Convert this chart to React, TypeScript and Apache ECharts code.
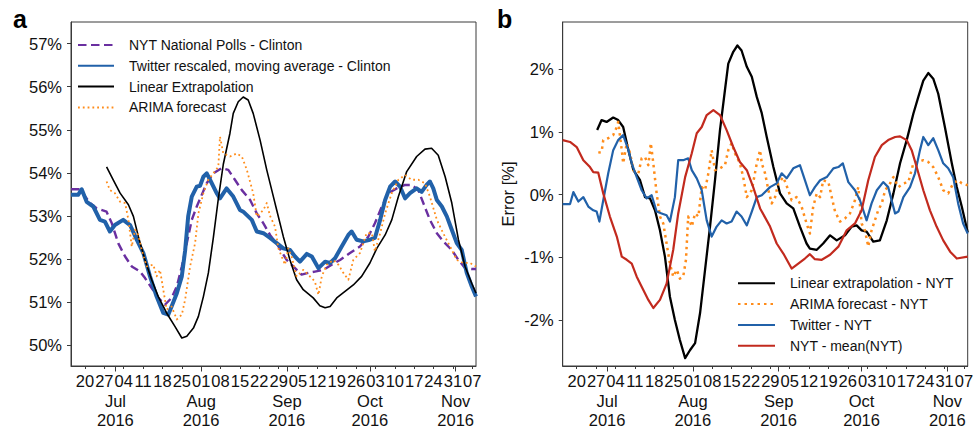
import React, { useEffect, useRef } from 'react';
import * as echarts from 'echarts';

// x values are days counted from Monday 2016-06-20
const X_MIN = -5.06;
const X_MAX = 141.35;
const weekDays = [0, 7, 14, 21, 28, 35, 42, 49, 56, 63, 70, 77, 84, 91, 98, 105, 112, 119, 126, 133, 140];
const weekLabels = ['20', '27', '04', '11', '18', '25', '01', '08', '15', '22', '29', '05', '12', '19', '26', '03', '10', '17', '24', '31', '07'];
const monthDays = [11, 42, 73, 103, 134];
const monthLabels = ['Jul\n2016', 'Aug\n2016', 'Sep\n2016', 'Oct\n2016', 'Nov\n2016'];
const leftYTicks = [50, 51, 52, 53, 54, 55, 56, 57];
const rightYTicks = [-2, -1, 0, 1, 2];

// ---- panel a ----
const nytDays = [-5.06, -2.3, -1.2, 1.8, 4.2, 7.8, 9.7, 12, 14.5, 16.9, 19.9, 21.7, 24.1, 26.5, 28.9, 31.3, 33.2, 35, 36.8, 38.6, 40.4, 42.2, 44, 46.4, 49.4, 51.8, 54.2, 56.7, 59.7, 62.1, 64.5, 66.9, 69.3, 72.9, 75.3, 78.3, 80.7, 83.1, 86.2, 89.2, 92.2, 95.8, 99.4, 102.4, 104.8, 107.3, 109.7, 112.7, 115.7, 118.1, 120.5, 122.3, 124.7, 127.2, 129.5, 132.6, 135, 137.4, 139.8, 141.35];
const nytVals = [53.62, 53.62, 53.56, 53.3, 53.18, 53.1, 52.83, 52.37, 52.06, 51.83, 51.71, 51.56, 51.33, 51.1, 50.94, 51.1, 51.37, 51.83, 52.37, 52.91, 53.22, 53.49, 53.76, 53.99, 54.11, 54.07, 53.84, 53.6, 53.37, 53.06, 52.83, 52.56, 52.36, 51.98, 51.83, 51.64, 51.68, 51.71, 51.75, 51.87, 51.98, 52.14, 52.29, 52.52, 52.83, 53.22, 53.53, 53.64, 53.72, 53.72, 53.6, 53.3, 52.91, 52.6, 52.41, 52.21, 51.98, 51.79, 51.77, 51.77];

const twDays = [-5.06, -2.5, -1.2, 0.6, 3, 5.4, 7.2, 9, 10.8, 13.8, 16.3, 18.7, 21.1, 23.5, 25.9, 28.3, 30.1, 31.3, 33.2, 35, 36.2, 37.3, 38.6, 40.4, 41.6, 42.8, 44, 45.2, 47.6, 48.8, 51.2, 53.6, 56, 57.2, 60.3, 62.1, 64.5, 66.9, 69.3, 71.7, 74.1, 75.9, 77.7, 80.2, 82, 84.4, 86.8, 88.6, 90.4, 92.8, 95.2, 96.4, 98.2, 100.6, 103, 104.8, 106.7, 108.5, 110.3, 112.1, 113.9, 115.7, 117.5, 119.9, 121.7, 123.5, 124.7, 125.9, 127.2, 129, 130.8, 132.6, 134.4, 136.2, 138, 139.8, 141.35];
const twVals = [53.49, 53.49, 53.62, 53.33, 53.22, 52.91, 52.87, 52.64, 52.79, 52.91, 52.79, 52.45, 52.14, 51.6, 51.13, 50.75, 50.71, 50.9, 51.21, 51.6, 52.2, 52.99, 53.45, 53.68, 53.7, 53.91, 53.99, 53.84, 53.53, 53.41, 53.64, 53.45, 53.14, 53.1, 52.91, 52.64, 52.6, 52.49, 52.37, 52.25, 52.21, 52.06, 51.94, 52.12, 52.06, 51.79, 51.94, 51.91, 52.02, 52.29, 52.56, 52.64, 52.45, 52.41, 52.45, 52.49, 52.91, 53.37, 53.68, 53.8, 53.68, 53.41, 53.53, 53.64, 53.56, 53.72, 53.8, 53.64, 53.37, 53.22, 52.99, 52.68, 52.37, 52.21, 51.68, 51.37, 51.13];

const linDays = [7.8, 10.2, 12.7, 15.7, 17.5, 19.3, 21.7, 24.1, 26.5, 29.5, 32.5, 35, 36.8, 39.2, 41, 42.8, 44.6, 46.4, 48.2, 50, 52.4, 53.6, 55.4, 57.2, 59, 60.8, 63.3, 65.7, 68.1, 69.3, 71.7, 74.1, 76.5, 78.9, 82.5, 84.9, 86.8, 88.6, 91, 94, 97, 100, 103, 105.5, 108.5, 110.9, 113.3, 116.3, 119.9, 122.9, 125.3, 127.7, 130.2, 132.6, 135, 137.4, 139.8, 141.35];
const linVals = [54.14, 53.84, 53.53, 53.26, 52.99, 52.52, 51.98, 51.52, 51.13, 50.75, 50.44, 50.17, 50.21, 50.4, 50.67, 51.13, 51.68, 52.5, 53.4, 54.2, 54.92, 55.38, 55.65, 55.76, 55.69, 55.38, 54.76, 54.07, 53.45, 53.14, 52.52, 51.98, 51.52, 51.29, 51.1, 50.92, 50.87, 50.9, 51.1, 51.25, 51.4, 51.6, 51.91, 52.25, 52.56, 52.91, 53.45, 54.03, 54.38, 54.55, 54.57, 54.41, 53.91, 53.3, 52.45, 51.83, 51.44, 51.21];

const arDays = [7.8, 9, 10.8, 12.7, 14.5, 15.7, 16.9, 18.1, 19.3, 20.5, 22.3, 24.7, 25.9, 27.1, 28.3, 29.5, 31.3, 33.2, 35, 36.2, 38, 39.8, 41, 42.8, 44.6, 46.4, 48.2, 48.8, 50, 52.4, 54.8, 56.7, 58.5, 60.8, 62.1, 63.3, 64.5, 65.7, 66.9, 68.7, 69.9, 72.3, 73.5, 74.7, 76.5, 78.9, 81.3, 83.1, 84.4, 85.6, 87.4, 89.8, 91.6, 93.4, 95.2, 97, 99.4, 101.8, 103.7, 104.8, 106.7, 108.5, 110.9, 113.3, 115.7, 118.1, 120.5, 122.9, 124.7, 127.2, 129.5, 132, 134.4, 136.8, 139.2, 141.35];
const arVals = [53.8, 53.6, 53.53, 53.33, 53.3, 52.91, 52.29, 52.68, 52.56, 52.21, 51.83, 51.87, 51.6, 51.75, 51.29, 50.83, 50.9, 50.6, 50.71, 51.06, 51.83, 52.37, 53.06, 53.53, 53.84, 53.99, 54.14, 54.84, 54.45, 54.38, 54.45, 54.38, 54.07, 53.53, 52.99, 53.06, 53.14, 53.3, 53.0, 52.75, 52.25, 51.87, 52.25, 52.06, 51.6, 51.75, 51.6, 51.48, 51.17, 51.6, 51.87, 51.98, 51.87, 51.68, 51.52, 51.98, 52.14, 52.6, 52.6, 52.18, 52.6, 53.06, 53.53, 53.84, 53.95, 53.84, 53.84, 53.76, 53.45, 52.91, 52.6, 52.29, 51.98, 51.91, 51.91, 51.83];

// ---- panel b ----
const lnDays = [7.4, 9, 10.8, 13.2, 15, 16.8, 18.7, 20.5, 22.9, 24.7, 26.5, 28.3, 30.1, 31.9, 33.7, 35.5, 37.3, 39.2, 41, 42.8, 44.6, 46.4, 48.2, 50, 51.8, 53.6, 54.8, 56.6, 58.1, 59.6, 61.5, 63.3, 65.1, 66.9, 68.7, 71.1, 73.5, 75.9, 78.3, 80.7, 83.1, 84.3, 86.8, 89.1, 91.6, 94, 97, 99.4, 101.2, 103, 104.8, 107.2, 109.6, 112.1, 114.5, 116.9, 119.3, 121.7, 123.5, 125.3, 127.1, 128.9, 130.7, 133.1, 135.6, 137.4, 139.2, 141.35];
const lnVals = [1.03, 1.19, 1.16, 1.23, 1.19, 1.08, 0.71, 0.39, 0.23, -0.04, -0.06, -0.25, -0.57, -0.99, -1.63, -2.0, -2.32, -2.61, -2.48, -2.37, -1.89, -1.2, -0.51, 0.23, 1.03, 1.67, 2.09, 2.28, 2.38, 2.3, 2.04, 1.88, 1.56, 1.3, 0.92, 0.44, 0.02, -0.14, -0.22, -0.51, -0.78, -0.86, -0.88, -0.78, -0.65, -0.73, -0.65, -0.51, -0.49, -0.57, -0.59, -0.75, -0.73, -0.41, 0.02, 0.5, 0.87, 1.29, 1.56, 1.82, 1.94, 1.85, 1.61, 1.08, 0.5, 0.12, -0.19, -0.6];

const anDays = [7.8, 9, 9.6, 11.4, 13.2, 14.5, 15, 16.3, 16.8, 18.1, 19.3, 20.5, 22.3, 23.5, 24.7, 25.9, 26.8, 27.7, 28.9, 30.1, 31.3, 32.5, 33.7, 34.9, 36.2, 37.3, 38.5, 39.5, 40.3, 41.6, 42.8, 44, 45.2, 46.4, 47.6, 48.8, 50, 51.8, 53.6, 54.8, 56, 57.2, 59, 60.2, 61.5, 63.3, 65.1, 66.3, 66.9, 68.1, 69.3, 70.5, 71.7, 72.9, 74.7, 76.5, 77.7, 79.5, 81.3, 83.1, 84.3, 85.5, 86.8, 88, 89.1, 91, 92.2, 93.4, 95.2, 97, 98.8, 100.6, 101.8, 103, 104.2, 105.4, 106.6, 107.8, 109, 110.3, 111.5, 113.3, 114.5, 116.3, 118.1, 119.9, 121.7, 123.5, 125.3, 127.1, 128.9, 130.7, 132.5, 134.3, 136.1, 137.9, 139.2, 141.35];
const anVals = [0.67, 0.68, 0.87, 0.9, 0.95, 1.08, 1.16, 0.71, 0.5, 0.82, 0.66, 0.39, 0.34, 0.58, 0.6, 0.47, 0.82, 0.5, 0.02, -0.35, -0.46, -0.78, -1.1, -1.31, -1.2, -1.34, -1.31, -1.04, -0.35, -0.51, -0.3, -0.35, 0.12, 0.07, 0.34, 0.71, 0.39, 0.42, 0.47, 0.71, 0.82, 0.66, 0.5, 0.28, -0.04, 0.07, 0.5, 0.71, 0.5, 0.34, 0.07, -0.14, -0.04, 0.18, 0.28, 0.07, -0.09, -0.04, -0.19, -0.46, -0.62, -0.19, 0.02, -0.04, 0.23, 0.2, -0.04, -0.27, -0.43, -0.38, -0.3, -0.09, 0.12, -0.46, -0.57, -0.83, -0.57, -0.41, -0.25, -0.14, 0.07, 0.18, 0.28, 0.12, 0.18, 0.2, 0.5, 0.52, 0.55, 0.52, 0.44, 0.28, 0.07, 0.02, 0.18, 0.23, 0.18, 0.15];

const tnDays = [-5.06, -2.4, -1.2, 0.6, 2.4, 4.2, 6, 7.2, 8.2, 9.6, 11.4, 13.2, 15, 16.8, 18.7, 19.9, 21.7, 23.5, 25.3, 27.1, 28.9, 30.7, 32.5, 33.7, 35.5, 36.7, 38.5, 40.3, 41.6, 43.4, 45.2, 47, 48.8, 50.6, 52.4, 54.2, 56, 57.8, 59.6, 61.5, 63.3, 65.1, 66.9, 69.9, 72.3, 74.1, 75.9, 78.3, 80.7, 82.5, 84.3, 86.1, 88, 90.4, 92.8, 94.6, 96.2, 98.2, 100.6, 102.4, 104.8, 106.6, 108.5, 110.8, 112.6, 115.1, 116.3, 118.1, 120.5, 122.3, 124.1, 125.3, 127.1, 128.9, 130.7, 132.5, 134.3, 136.1, 137.9, 139.7, 141.35];
const tnVals = [-0.15, -0.15, 0.04, -0.11, -0.04, -0.19, -0.25, -0.27, -0.43, -0.09, 0.34, 0.71, 0.87, 0.95, 0.71, 0.5, 0.28, 0.07, -0.06, -0.01, -0.27, -0.3, -0.33, -0.43, -0.04, 0.55, 0.55, 0.58, 0.39, 0.26, 0.07, -0.41, -0.67, -0.51, -0.41, -0.46, -0.43, -0.27, -0.35, -0.49, -0.27, -0.04, -0.01, 0.12, 0.18, 0.34, 0.26, 0.42, 0.47, 0.23, -0.01, 0.12, 0.23, 0.28, 0.42, 0.44, 0.5, 0.2, 0.07, -0.09, -0.41, -0.14, 0.07, 0.2, 0.12, -0.3, -0.27, -0.04, 0.12, 0.34, 0.71, 0.92, 0.79, 0.9, 0.71, 0.5, 0.42, 0.28, -0.14, -0.46, -0.62];

const nmDays = [-5.06, -2.4, 0, 2.4, 4.8, 6, 7.8, 9.6, 12, 14.5, 16.3, 18.1, 19.9, 21.7, 23.5, 25.9, 27.7, 30.1, 32.5, 34.9, 36.7, 39.2, 41.6, 43.4, 45.2, 47, 49.4, 51.8, 54.2, 56.6, 59, 61.5, 63.8, 66.3, 69.9, 72.3, 74.7, 77.7, 80.1, 82.5, 84.3, 86.1, 88.6, 91.6, 94.6, 97.6, 100.6, 103, 105.4, 107.8, 110.3, 112.6, 115.1, 116.9, 119.3, 121.1, 122.9, 125.3, 127.7, 130.1, 132.5, 135, 137.4, 141.35];
const nmVals = [0.87, 0.84, 0.76, 0.55, 0.44, 0.36, 0.35, 0.02, -0.35, -0.67, -0.99, -1.04, -1.1, -1.31, -1.47, -1.68, -1.81, -1.68, -1.42, -0.88, -0.3, 0.28, 0.66, 0.98, 1.08, 1.27, 1.35, 1.27, 1.03, 0.76, 0.52, 0.39, 0.12, -0.22, -0.51, -0.78, -0.94, -1.18, -1.1, -1.02, -0.95, -1.03, -1.04, -0.96, -0.83, -0.57, -0.46, -0.25, 0.23, 0.6, 0.79, 0.87, 0.92, 0.93, 0.87, 0.71, 0.44, 0.07, -0.25, -0.51, -0.73, -0.91, -1.02, -0.99];

const FONT = "'Liberation Sans', Arial, Helvetica, sans-serif";
const TXT = '#111111';
const FRAME = '#3a3a3a';
const C_NYT = '#6a2fa0';
const C_TW = '#2161a9';
const C_BLACK = '#000000';
const C_OR = '#ff8c1a';
const C_RED = '#c22a1e';

const pairs = (d: number[], v: number[]) => d.map((x, i) => [x, v[i]]);

const GRIDS = [
  { left: 71, top: 22, width: 405, height: 344 },
  { left: 562.7, top: 22, width: 405, height: 344 },
];

function dayAxis(gridIndex: number) {
  return {
    type: 'value', gridIndex, min: X_MIN, max: X_MAX, position: 'bottom',
    splitLine: { show: false },
    axisLine: { show: true, onZero: false, lineStyle: { color: FRAME, width: 1 } },
    axisTick: { show: true, customValues: weekDays, length: 3, lineStyle: { color: FRAME, width: 1 } },
    axisLabel: {
      customValues: weekDays,
      formatter: (v: number) => { const i = weekDays.indexOf(Math.round(v)); return i >= 0 ? weekLabels[i] : ''; },
      fontSize: 16.5, color: TXT, fontFamily: FONT, margin: 6,
    },
  };
}
function monthAxis(gridIndex: number) {
  return {
    type: 'value', gridIndex, min: X_MIN, max: X_MAX, position: 'bottom',
    splitLine: { show: false },
    axisLine: { show: false, onZero: false },
    axisTick: { show: true, customValues: monthDays, length: 5.5, lineStyle: { color: FRAME, width: 1 } },
    axisLabel: {
      customValues: monthDays,
      formatter: (v: number) => { const i = monthDays.indexOf(Math.round(v)); return i >= 0 ? monthLabels[i] : ''; },
      fontSize: 16.5, lineHeight: 18.5, color: TXT, fontFamily: FONT, margin: 26,
    },
  };
}

export default function App() {
  const ref = useRef<HTMLDivElement>(null);
  useEffect(() => {
    const chart = echarts.init(ref.current!, null, { renderer: 'svg' });
    const line = (name: string, x: number, y: number, d: number[], v: number[], color: string, width: number, type: any, z: number) => ({
      type: 'line', name, xAxisIndex: x, yAxisIndex: y, data: pairs(d, v),
      symbol: 'none', showSymbol: false, silent: true, z,
      lineStyle: { color, width, type, cap: 'butt', join: 'round' },
      itemStyle: { color },
    });
    const legendCommon = {
      orient: 'vertical', padding: 0, itemHeight: 14, itemGap: 6.8,
      itemStyle: { opacity: 0, borderWidth: 0 },
      textStyle: { fontSize: 14, lineHeight: 14, color: TXT, fontFamily: FONT, padding: [0, 0, 0, 10] },
      selectedMode: false,
    };
    const option: any = {
      animation: false,
      backgroundColor: '#ffffff',
      textStyle: { fontFamily: FONT },
      grid: [
        { ...GRIDS[0], show: true, borderColor: FRAME, borderWidth: 1, backgroundColor: 'transparent', containLabel: false },
        { ...GRIDS[1], show: true, borderColor: FRAME, borderWidth: 1, backgroundColor: 'transparent', containLabel: false },
        { ...GRIDS[0], show: false, containLabel: false },
        { ...GRIDS[1], show: false, containLabel: false },
      ],
      xAxis: [dayAxis(0), dayAxis(1), monthAxis(2), monthAxis(3)],
      yAxis: [
        {
          type: 'value', gridIndex: 0, min: 49.52, max: 57.5,
          splitLine: { show: false },
          axisLine: { show: true, onZero: false, lineStyle: { color: FRAME, width: 1 } },
          axisTick: { show: true, customValues: leftYTicks, length: 4, lineStyle: { color: FRAME } },
          axisLabel: { customValues: leftYTicks, formatter: (v: number) => `${v}%`, fontSize: 16.5, color: TXT, fontFamily: FONT, margin: 9 },
        },
        {
          type: 'value', gridIndex: 1, min: -2.735, max: 2.755,
          name: 'Error [%]', nameLocation: 'middle', nameGap: 46,
          nameTextStyle: { fontSize: 16.5, color: TXT, fontFamily: FONT },
          splitLine: { show: false },
          axisLine: { show: true, onZero: false, lineStyle: { color: FRAME, width: 1 } },
          axisTick: { show: true, customValues: rightYTicks, length: 4, lineStyle: { color: FRAME } },
          axisLabel: { customValues: rightYTicks, formatter: (v: number) => `${v}%`, fontSize: 16.5, color: TXT, fontFamily: FONT, margin: 9 },
        },
        { type: 'value', gridIndex: 2, min: 0, max: 1, show: false },
        { type: 'value', gridIndex: 3, min: 0, max: 1, show: false },
      ],
      legend: [
        {
          ...legendCommon, left: 77, top: 38, itemWidth: 36,
          data: ['NYT National Polls - Clinton', 'Twitter rescaled, moving average - Clinton', 'Linear Extrapolation', 'ARIMA forecast'],
        },
        {
          ...legendCommon, left: 737, top: 276.3, itemWidth: 37,
          data: ['Linear extrapolation - NYT', 'ARIMA forecast - NYT', 'Twitter - NYT', 'NYT - mean(NYT)'],
        },
      ],
      graphic: [
        { type: 'text', left: 13, top: 6, style: { text: 'a', font: `bold 25px ${FONT}`, fill: '#000' } },
        { type: 'text', left: 497, top: 6, style: { text: 'b', font: `bold 25px ${FONT}`, fill: '#000' } },
      ],
      series: [
        line('NYT National Polls - Clinton', 0, 0, nytDays, nytVals, C_NYT, 2.4, [8.5, 4.5], 2),
        line('Twitter rescaled, moving average - Clinton', 0, 0, twDays, twVals, C_TW, 4, 'solid', 3),
        line('Linear Extrapolation', 0, 0, linDays, linVals, C_BLACK, 1.6, 'solid', 4),
        line('ARIMA forecast', 0, 0, arDays, arVals, C_OR, 1.8, [1.8, 3], 5),
        line('Linear extrapolation - NYT', 1, 1, lnDays, lnVals, C_BLACK, 2.3, 'solid', 2),
        line('ARIMA forecast - NYT', 1, 1, anDays, anVals, C_OR, 2.5, [2.5, 4], 3),
        line('Twitter - NYT', 1, 1, tnDays, tnVals, C_TW, 2.2, 'solid', 4),
        line('NYT - mean(NYT)', 1, 1, nmDays, nmVals, C_RED, 2.2, 'solid', 5),
      ],
    };
    chart.setOption(option);
    return () => chart.dispose();
  }, []);
  return <div ref={ref} style={{ position: 'fixed', left: 0, top: 0, width: 978, height: 431 }} />;
}
